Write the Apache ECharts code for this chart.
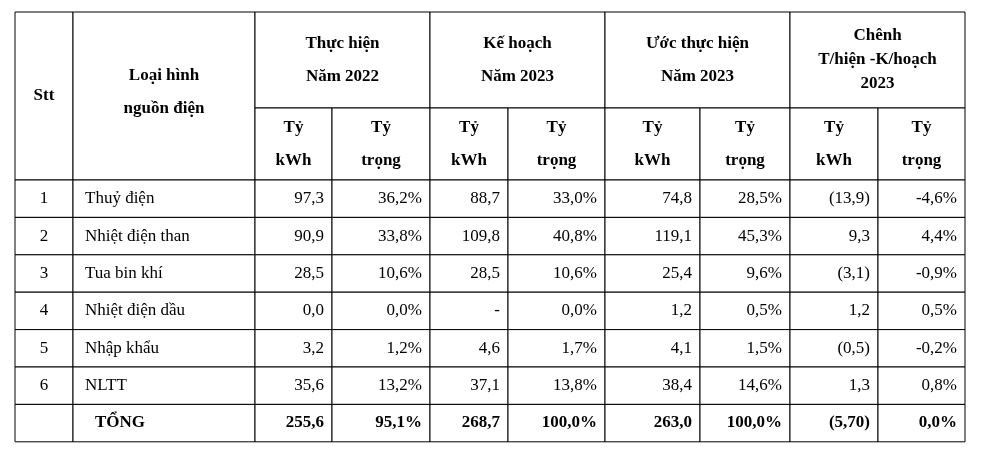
<!DOCTYPE html>
<html><head><meta charset="utf-8">
<script src="https://cdn.jsdelivr.net/npm/echarts@6/dist/echarts.min.js"></script>
<style>html,body{margin:0;background:#fff}#main{width:1000px;height:472px}</style>
</head><body><div id="main"></div>
<script>
// table data
var stt = ['1', '2', '3', '4', '5', '6', ''];
var sources = ['Thuỷ điện', 'Nhiệt điện than', 'Tua bin khí', 'Nhiệt điện dầu', 'Nhập khẩu', 'NLTT', 'TỔNG'];
var th2022Kwh = ['97,3', '90,9', '28,5', '0,0', '3,2', '35,6', '255,6'];
var th2022Pct = ['36,2%', '33,8%', '10,6%', '0,0%', '1,2%', '13,2%', '95,1%'];
var kh2023Kwh = ['88,7', '109,8', '28,5', '-', '4,6', '37,1', '268,7'];
var kh2023Pct = ['33,0%', '40,8%', '10,6%', '0,0%', '1,7%', '13,8%', '100,0%'];
var uoc2023Kwh = ['74,8', '119,1', '25,4', '1,2', '4,1', '38,4', '263,0'];
var uoc2023Pct = ['28,5%', '45,3%', '9,6%', '0,5%', '1,5%', '14,6%', '100,0%'];
var diffKwh = ['(13,9)', '9,3', '(3,1)', '1,2', '(0,5)', '1,3', '(5,70)'];
var diffPct = ['-4,6%', '4,4%', '-0,9%', '0,5%', '-0,2%', '0,8%', '0,0%'];
var groupHeaders = ['Thực hiện\nNăm 2022', 'Kế hoạch\nNăm 2023', 'Ước thực hiện\nNăm 2023', 'Chênh\nT/hiện -K/hoạch\n2023'];
var subHeaders = ['Tỷ\nkWh', 'Tỷ\ntrọng'];

// layout (axis units)
var colX = [0, 58, 240, 317, 415, 493, 590, 685, 775, 863, 950];
var headTop = 96, headBottom = 168, rowH = 37.4;

var cells = [];
function cell(x0, y0, x1, y1, text, align, bold) { cells.push([x0, y0, x1, y1, text, align, bold ? 1 : 0]); }
cell(colX[0], 0, colX[1], headBottom, 'Stt', 'center', true);
cell(colX[1], 0, colX[2], headBottom - 8, 'Loại hình\nnguồn điện', 'center', true);
groupHeaders.forEach(function (g, i) {
  cell(colX[2 + 2 * i], 0, colX[4 + 2 * i], headTop, g, 'center', true);
  cell(colX[2 + 2 * i], headTop, colX[3 + 2 * i], headBottom, subHeaders[0], 'center', true);
  cell(colX[3 + 2 * i], headTop, colX[4 + 2 * i], headBottom, subHeaders[1], 'center', true);
});
var valueCols = [th2022Kwh, th2022Pct, kh2023Kwh, kh2023Pct, uoc2023Kwh, uoc2023Pct, diffKwh, diffPct];
sources.forEach(function (s, r) {
  var y0 = headBottom + r * rowH, y1 = y0 + rowH, tot = r === sources.length - 1;
  cell(colX[0], y0, colX[1], y1, stt[r], 'center', tot);
  cell(colX[1], y0, colX[2], y1, s, tot ? 'total' : 'left', tot);
  valueCols.forEach(function (col, c) { cell(colX[2 + c], y0, colX[3 + c], y1, col[r], 'right', tot); });
});

var myChart = echarts.init(document.getElementById('main'));
myChart.setOption({
  animation: false,
  grid: { left: 15, right: 35, top: 12, bottom: 30 },
  xAxis: { type: 'value', min: 0, max: 950, show: false },
  yAxis: { type: 'value', min: 0, max: 430, inverse: true, show: false },
  series: [{
    type: 'custom',
    data: cells,
    renderItem: function (params, api) {
      var p0 = api.coord([api.value(0), api.value(1)]);
      var p1 = api.coord([api.value(2), api.value(3)]);
      var c = cells[params.dataIndex];
      var align = c[5], text = c[4];
      var lines = text.split('\n').length;
      var tx = align === 'center' ? (p0[0] + p1[0]) / 2 : align === 'right' ? p1[0] - 8 : p0[0] + (align === 'total' ? 22 : 12);
      // the Loại hình cell is shortened only for text placement; border uses full header height
      var bottom = c[1] === 0 && c[3] === headBottom - 8 ? api.coord([0, headBottom])[1] : p1[1];
      return {
        type: 'group',
        children: [
          { type: 'rect', shape: { x: p0[0], y: p0[1], width: p1[0] - p0[0], height: bottom - p0[1] },
            style: { fill: '#fff', stroke: '#000', lineWidth: 1 } },
          { type: 'text', style: {
              x: tx, y: (p0[1] + p1[1]) / 2, text: text,
              align: align === 'center' ? 'center' : align === 'right' ? 'right' : 'left',
              verticalAlign: 'middle', fill: '#000', lineHeight: lines > 2 ? 24 : 33,
              font: (c[6] ? 'bold ' : '') + '17px "Liberation Serif", serif' } }
        ]
      };
    }
  }]
});
</script></body></html>
